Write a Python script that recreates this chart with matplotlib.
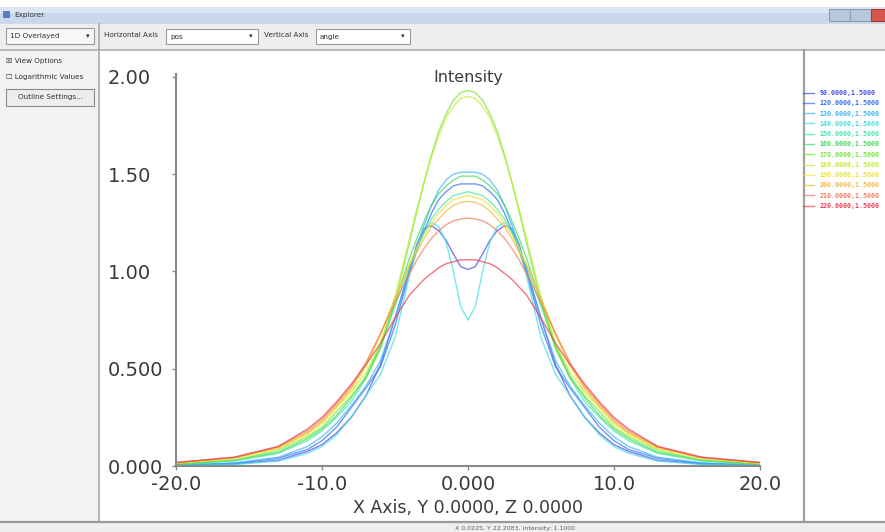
import matplotlib as mpl
import matplotlib.pyplot as plt
from matplotlib.patches import Rectangle
import numpy as np

mpl.use('Agg')

# sample positions along the horizontal axis
x_pos = [-20, -16, -13, -11, -10, -9, -8, -7, -6, -5, -4, -3.5, -3, -2.5, -2, -1.5, -1, -0.5, 0,
         0.5, 1, 1.5, 2, 2.5, 3, 3.5, 4, 5, 6, 7, 8, 9, 10, 11, 13, 16, 20]

# intensity profiles
s01 = [0.003, 0.01, 0.03, 0.075, 0.11, 0.17, 0.25, 0.36, 0.52, 0.76, 1.01, 1.14, 1.22, 1.235, 1.21, 1.16, 1.09, 1.025, 1.01,
       1.025, 1.09, 1.16, 1.21, 1.235, 1.22, 1.14, 1.01, 0.76, 0.52, 0.36, 0.25, 0.17, 0.11, 0.075, 0.03, 0.01, 0.003]
s02 = [0.005, 0.014, 0.04, 0.085, 0.13, 0.20, 0.30, 0.40, 0.51, 0.72, 1.00, 1.11, 1.21, 1.30, 1.37, 1.41, 1.44, 1.45, 1.45,
       1.45, 1.44, 1.41, 1.37, 1.30, 1.21, 1.11, 1.00, 0.72, 0.51, 0.40, 0.30, 0.20, 0.13, 0.085, 0.04, 0.014, 0.005]
s03 = [0.006, 0.016, 0.045, 0.10, 0.15, 0.22, 0.31, 0.41, 0.54, 0.76, 1.01, 1.13, 1.24, 1.34, 1.42, 1.47, 1.50, 1.51, 1.51,
       1.51, 1.50, 1.47, 1.42, 1.34, 1.24, 1.13, 1.01, 0.76, 0.54, 0.41, 0.31, 0.22, 0.15, 0.10, 0.045, 0.016, 0.006]
s04 = [0.003, 0.008, 0.025, 0.065, 0.10, 0.16, 0.25, 0.36, 0.47, 0.66, 0.98, 1.11, 1.21, 1.25, 1.23, 1.15, 1.00, 0.82, 0.75,
       0.82, 1.00, 1.15, 1.23, 1.25, 1.21, 1.11, 0.98, 0.66, 0.47, 0.36, 0.25, 0.16, 0.10, 0.065, 0.025, 0.008, 0.003]
s05 = [0.008, 0.025, 0.065, 0.13, 0.18, 0.25, 0.33, 0.45, 0.61, 0.82, 1.03, 1.12, 1.20, 1.27, 1.32, 1.36, 1.39, 1.40, 1.41,
       1.40, 1.39, 1.36, 1.32, 1.27, 1.20, 1.12, 1.03, 0.82, 0.61, 0.45, 0.33, 0.25, 0.18, 0.13, 0.065, 0.025, 0.008]
s06 = [0.01, 0.03, 0.07, 0.14, 0.19, 0.26, 0.35, 0.46, 0.62, 0.84, 1.07, 1.17, 1.26, 1.34, 1.40, 1.44, 1.47, 1.49, 1.49,
       1.49, 1.47, 1.44, 1.40, 1.34, 1.26, 1.17, 1.07, 0.84, 0.62, 0.46, 0.35, 0.26, 0.19, 0.14, 0.07, 0.03, 0.01]
s07 = [0.01, 0.03, 0.08, 0.15, 0.20, 0.28, 0.36, 0.45, 0.60, 0.84, 1.15, 1.31, 1.46, 1.60, 1.72, 1.81, 1.88, 1.92, 1.93,
       1.92, 1.88, 1.81, 1.72, 1.60, 1.46, 1.31, 1.15, 0.84, 0.60, 0.45, 0.36, 0.28, 0.20, 0.15, 0.08, 0.03, 0.01]
s08 = [0.015, 0.04, 0.09, 0.17, 0.22, 0.30, 0.38, 0.48, 0.63, 0.87, 1.17, 1.32, 1.46, 1.59, 1.70, 1.79, 1.85, 1.89, 1.90,
       1.89, 1.85, 1.79, 1.70, 1.59, 1.46, 1.32, 1.17, 0.87, 0.63, 0.48, 0.38, 0.30, 0.22, 0.17, 0.09, 0.04, 0.015]
s09 = [0.015, 0.04, 0.09, 0.16, 0.22, 0.30, 0.39, 0.51, 0.67, 0.86, 1.04, 1.12, 1.19, 1.25, 1.30, 1.34, 1.37, 1.38, 1.39,
       1.38, 1.37, 1.34, 1.30, 1.25, 1.19, 1.12, 1.04, 0.86, 0.67, 0.51, 0.39, 0.30, 0.22, 0.16, 0.09, 0.04, 0.015]
s10 = [0.016, 0.042, 0.095, 0.17, 0.23, 0.31, 0.40, 0.52, 0.68, 0.86, 1.03, 1.10, 1.17, 1.23, 1.27, 1.31, 1.34, 1.355, 1.36,
       1.355, 1.34, 1.31, 1.27, 1.23, 1.17, 1.10, 1.03, 0.86, 0.68, 0.52, 0.40, 0.31, 0.23, 0.17, 0.095, 0.042, 0.016]
s11 = [0.018, 0.045, 0.10, 0.18, 0.24, 0.32, 0.41, 0.53, 0.68, 0.84, 0.99, 1.06, 1.12, 1.17, 1.21, 1.24, 1.26, 1.27, 1.275,
       1.27, 1.26, 1.24, 1.21, 1.17, 1.12, 1.06, 0.99, 0.84, 0.68, 0.53, 0.41, 0.32, 0.24, 0.18, 0.10, 0.045, 0.018]
s12 = [0.018, 0.045, 0.10, 0.19, 0.25, 0.33, 0.42, 0.52, 0.63, 0.76, 0.88, 0.92, 0.96, 0.99, 1.02, 1.04, 1.05, 1.06, 1.06,
       1.06, 1.05, 1.04, 1.02, 0.99, 0.96, 0.92, 0.88, 0.76, 0.63, 0.52, 0.42, 0.33, 0.25, 0.19, 0.10, 0.045, 0.018]

series = [s01, s02, s03, s04, s05, s06, s07, s08, s09, s10, s11, s12]
labels = ['90.0000,1.5000', '120.0000,1.5000', '130.0000,1.5000', '140.0000,1.5000',
          '150.0000,1.5000', '160.0000,1.5000', '170.0000,1.5000', '180.0000,1.5000',
          '190.0000,1.5000', '200.0000,1.5000', '210.0000,1.5000', '220.0000,1.5000']
colors = ['#4646ee', '#2f6cf5', '#38b4f5', '#3fdede', '#3fe8a8', '#3ed85a',
          '#6ee632', '#c2ec2a', '#eee430', '#f5b840', '#f57a5a', '#ee3a50']

y_ticks = [0, 0.5, 1.0, 1.5, 2.0]
y_labels = ['0.000', '0.500', '1.00', '1.50', '2.00']
x_ticks = [-20, -10, 0, 10, 20]
x_labels = ['-20.0', '-10.0', '0.000', '10.0', '20.0']

W, H = 885, 532
fig = plt.figure(figsize=(W / 100, H / 100), dpi=100)
fig.patch.set_facecolor('white')

# window chrome, drawn in pixel coordinates
bg = fig.add_axes([0, 0, 1, 1])
bg.set_xlim(0, W)
bg.set_ylim(H, 0)
bg.axis('off')


def box(x, y, w, h, fc, ec='none', lw=0.8):
    bg.add_patch(Rectangle((x, y), w, h, facecolor=fc, edgecolor=ec, linewidth=lw))


ui = dict(fontsize=5.2, color='#303030', va='center')
box(0, 7, W, 17, '#c9d8ec')
box(0, 7, W, 6, '#dbe6f4')
box(3, 11, 7, 7, '#5a7fb8')
bg.text(14, 15.5, 'Explorer', **ui)
box(829, 9, 21, 12, '#b8c8dc', '#8a9ab0')
box(850, 9, 21, 12, '#b8c8dc', '#8a9ab0')
box(871, 9, 14, 12, '#d8574f', '#a03a34')

box(0, 24, W, 26, '#eeeeee')
box(0, 50, 98, 471, '#f3f3f3')
box(99, 50, 704, 471, 'white')
box(805, 50, 80, 471, 'white')
box(0, 522, W, 10, '#efefef')
bg.plot([0, W], [49.5, 49.5], color='#adadad', lw=1.2)
bg.plot([98.5, 98.5], [24, 521], color='#a8a8a8', lw=1.2)
bg.plot([803.5, 803.5], [50, 521], color='#a0a0a0', lw=1.6)
bg.plot([0, W], [521.5, 521.5], color='#9a9a9a', lw=1.6)

box(6, 28, 88, 16, '#f8f8f8', '#9a9a9a')
bg.text(10, 36, '1D Overlayed', **ui)
bg.text(86, 36, '▾', **ui)
bg.text(104, 35, 'Horizontal Axis', **ui)
box(166, 29, 92, 15, 'white', '#9a9a9a')
bg.text(170, 36.5, 'pos', **ui)
bg.text(249, 36.5, '▾', **ui)
bg.text(264, 35, 'Vertical Axis', **ui)
box(316, 29, 94, 15, 'white', '#9a9a9a')
bg.text(320, 36.5, 'angle', **ui)
bg.text(401, 36.5, '▾', **ui)

bg.text(6, 61, '☒ View Options', **ui)
bg.text(6, 77, '☐ Logarithmic Values', **ui)
box(6, 89, 88, 17, '#ededed', '#8a8a8a')
bg.text(50, 97.5, 'Outline Settings...', ha='center', fontsize=5.2, color='#303030', va='center')
bg.text(455, 528.5, 'X 0.0225, Y 22.2083, Intensity: 1.1000', fontsize=4.5, color='#606060', va='center')

# the chart itself
ax = fig.add_axes([176 / W, 1 - 466 / H, 584 / W, 392 / H])
ax.patch.set_alpha(0)
for s, c, lab in zip(series, colors, labels):
    ax.plot(x_pos, s, color=c, lw=1.0, alpha=0.7, label=lab)

ax.set_xlim(-20, 20)
ax.set_ylim(0, 2.015)
ax.set_xticks(x_ticks, x_labels)
ax.set_yticks(y_ticks, y_labels)
for sp in ['top', 'right']:
    ax.spines[sp].set_visible(False)
for sp in ['left', 'bottom']:
    ax.spines[sp].set_color('#8a8a8a')
    ax.spines[sp].set_linewidth(1.5)
ax.tick_params(colors='#8a8a8a', labelcolor='#3a3a3a', labelsize=14, length=3, width=1)
ax.tick_params(axis='x', pad=3.5)
ax.tick_params(axis='y', pad=46)
for t in ax.get_yticklabels():
    t.set_horizontalalignment('left')
ax.set_xlabel('X Axis, Y 0.0000, Z 0.0000', fontsize=12.5, color='#3a3a3a', labelpad=3.5)
ax.text(0.5, 0.99, 'Intensity', transform=ax.transAxes, ha='center', va='center',
        fontsize=11.5, color='#3a3a3a')

fig.legend(loc='upper left', bbox_to_anchor=(803 / W, 1 - 90 / H), frameon=False,
           prop={'family': 'DejaVu Sans Mono', 'weight': 'bold', 'size': 4.8},
           labelcolor='linecolor', handlelength=1.6, handletextpad=0.9,
           labelspacing=0.64, borderaxespad=0, borderpad=0)

fig.savefig('out.png', dpi=100, facecolor=fig.get_facecolor())
